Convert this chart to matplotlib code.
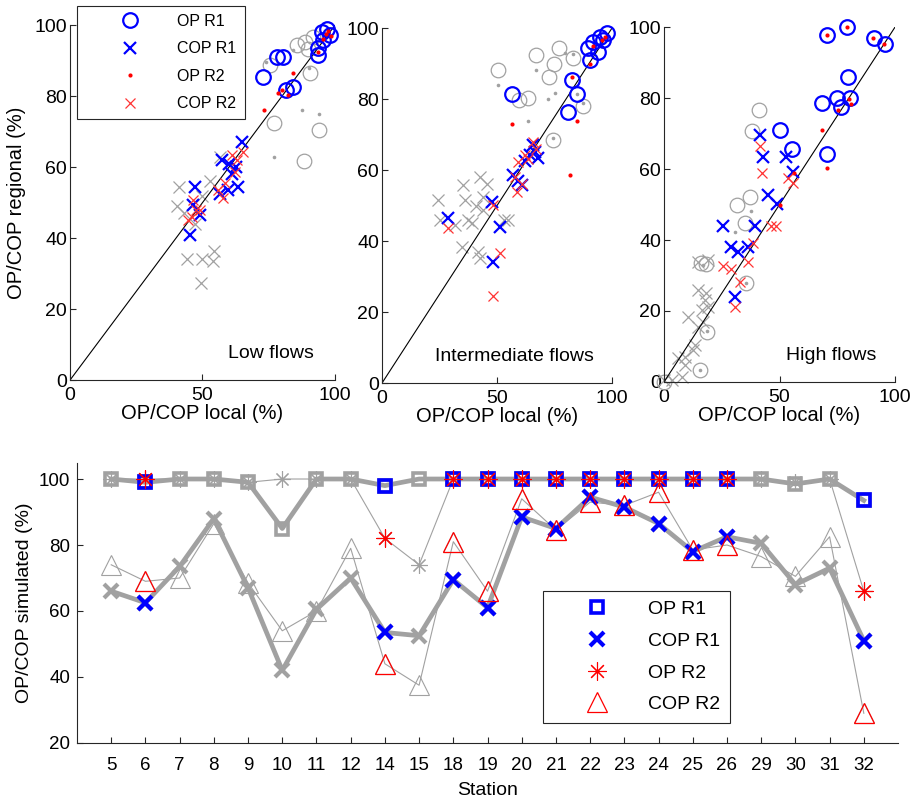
import matplotlib
matplotlib.use('Agg')
import matplotlib.pyplot as plt
import numpy as np

plt.rcParams['font.family'] = ['Liberation Sans', 'DejaVu Sans']

# ---- scatter panels: (local, regional) pairs in % ----
low_op_r1 = [(72.9, 85.4), (78, 91), (80.5, 91), (81.5, 81.8), (84.3, 82.5), (93.7, 91.5),
             (93.7, 93.5), (95.6, 95.8), (95, 98), (96.9, 99), (98.1, 97.2)]
low_op_r2 = [(84.3, 86.5), (78.6, 80.8), (79.9, 81.7), (82.4, 80.3), (73.4, 76), (93.5, 92.5),
             (95.5, 96), (96.5, 97.5), (97.5, 98.5), (98.5, 97)]
low_cop_r1 = [(64.8, 67.1), (57.5, 62), (60, 61), (62.5, 60), (61, 58), (63.5, 54.5), (59.7, 53.5),
              (56.5, 52.5), (47.2, 54.5), (46.5, 49.3), (49, 46.5), (45.3, 40.8)]
low_cop_r2 = [(61, 63.4), (65.4, 64.3), (63, 62), (62.3, 58.7), (58.5, 55.4), (56, 53.5), (57.9, 51.2),
              (46.5, 50.7), (47.5, 48), (45.9, 46), (44.7, 45.1), (49, 47.9)]
low_ns_op = [(75.5, 88.7), (85.5, 94.4), (88.7, 95.3), (91.8, 96.7), (90, 93.4), (90.5, 86.5),
             (77, 72.5), (94, 70.4), (88.3, 61.8)]
low_ns_dot = [(73.8, 89.7), (84, 93), (90.3, 87.8), (87.7, 76), (94, 75.1), (77, 62.9)]
low_ns_cop = [(41, 54.5), (40.5, 49), (43, 47), (47, 44), (44, 34), (50, 34), (54.5, 36.5),
              (54, 33.5), (49.5, 27.5), (56.5, 63), (53, 56), (50, 52)]

mid_op_r1 = [(56.4, 81.3), (82.5, 85.5), (84.6, 81.3), (81, 76.4), (89.7, 94.3), (91.9, 96.1),
             (94.8, 97.5), (97.7, 98.5), (94, 93.3), (90.4, 91), (96.2, 96.6)]
mid_op_r2 = [(56.4, 73.1), (82.5, 86.3), (84.6, 73.8), (81.7, 58.5), (91.9, 94.9), (90.4, 89.8),
             (95.5, 96.6), (97, 97.5)]
mid_cop_r1 = [(28.8, 46.4), (47.7, 51.1), (51.3, 44), (48.4, 34.2), (57, 58.6), (60.7, 55.8),
              (59, 57), (65.8, 67), (68, 63.3), (64.3, 64.2), (62, 62.5), (66.5, 65)]
mid_cop_r2 = [(28.8, 43.6), (48.4, 50.1), (51.3, 36.7), (48.4, 24.5), (58.6, 53.9), (60.7, 56.2),
              (59.3, 62.3), (65.8, 68), (62.2, 64.2), (67, 66), (57.8, 58.1), (63.5, 63)]
mid_ns_op = [(50.6, 88.2), (67, 92.4), (77.1, 94.5), (74.8, 90), (72.6, 86.3), (83.2, 91.6),
             (59.7, 79.7), (63.6, 80.2), (87.5, 78.1), (74.5, 68.5)]
mid_ns_dot = [(50.6, 84.1), (67, 88.2), (72.3, 79.9), (75.2, 81.8), (63.6, 73.8), (79.5, 93),
              (83.2, 92.8), (87.5, 78.8), (74.5, 68.9), (84.6, 81.3)]
mid_ns_cop = [(24.5, 51.5), (35.3, 55.8), (36.1, 51.5), (42.6, 58.1), (45.5, 56.2), (44, 52.5),
              (25.2, 45.9), (31.7, 44.5), (37.5, 45.9), (39, 45), (34.7, 38.4), (41.9, 37),
              (42.6, 35.1), (54.9, 45.9), (44, 48.7), (53, 46), (41, 50)]

high_op_r1 = [(70.7, 97.7), (79, 100), (90.9, 96.8), (95.7, 95.3), (79.5, 85.8), (68.2, 78.7),
              (74.7, 80.1), (76.4, 77.5), (80.5, 80.1), (70.7, 64.2), (50.1, 71), (55.2, 65.6)]
high_op_r2 = [(70.7, 97.7), (79, 100), (90.6, 96.8), (95.4, 95.3), (68.2, 71), (70.4, 60.3),
              (75.5, 76.5), (80.2, 79.7), (80.8, 78.4), (56.4, 59), (50, 50)]
high_cop_r1 = [(41.5, 69.5), (42.9, 63.3), (53, 63.4), (55.9, 59.2), (45.1, 52.8), (48.7, 50.1),
               (25.6, 43.9), (39.3, 43.9), (29.2, 38.1), (32.1, 36.6), (36.4, 38), (30.6, 23.9)]
high_cop_r2 = [(41.5, 66.5), (42.2, 59), (53.8, 57.6), (55.9, 56.2), (46.5, 44), (48.5, 44),
               (38.6, 39.2), (25.6, 32.8), (29.2, 31.9), (36.4, 33.7), (32.8, 28.3), (30.6, 21.1)]
high_ns_op = [(41.2, 76.6), (37.9, 70.8), (31.4, 50), (37.1, 52), (35, 44.7), (35.7, 27.8),
              (16, 33.5), (18, 33.3), (18.6, 14.1), (15.5, 3.3), (0, 0)]
high_ns_dot = [(37.6, 48.1), (30.6, 42.2), (15.5, 3.5), (18.6, 14.5), (35.5, 28), (17, 33)]
high_ns_cop = [(14.9, 33.9), (19.2, 34.4), (14.9, 25.9), (17.7, 23.1), (19.2, 21.2), (16.3, 20.3),
               (10.5, 18.4), (14.9, 15.6), (13.4, 10.4), (12.7, 9), (9.1, 7.1), (6.2, 6.7),
               (9.1, 4.8), (7.7, 1.5), (0, 0.5), (3.3, 0.6), (18, 25), (17, 17)]

# ---- per-station results ----
stations = [5, 6, 7, 8, 9, 10, 11, 12, 14, 15, 18, 19, 20, 21, 22, 23, 24, 25, 26, 29, 30, 31, 32]
op_r1 = [100, 99, 100, 100, 99, 85, 100, 100, 98, 100, 100, 100, 100, 100, 100, 100, 100, 100,
         100, 100, 98.5, 100, 93.5]
cop_r1 = [66, 62.5, 73.5, 88, 67, 42, 60.5, 70, 53.5, 52.5, 69.5, 61, 88.5, 85, 94.5, 91.5,
          86.5, 78, 82.5, 80.5, 68, 73, 51]
op_r2 = [100, 100, 100, 100, 99, 100, 100, 100, 82, 74, 100, 100, 100, 100, 100, 100, 100, 100,
         100, 100, 99, 100, 66]
cop_r2 = [74, 69, 70, 86.5, 68.5, 54, 60, 79, 44, 37.5, 81, 66, 94, 84.5, 93, 92, 96, 78.5,
          80, 76.5, 70.5, 82.5, 29]
highlighted = [6, 14, 18, 19, 20, 21, 22, 23, 24, 25, 26, 32]

GRAY = (0.63, 0.63, 0.63)
AXC = (0.15, 0.15, 0.15)


def style_axes(ax, xpad, ypad, size):
    for side in ('top', 'right'):
        ax.spines[side].set_visible(False)
    for side in ('left', 'bottom'):
        ax.spines[side].set_color(AXC)
        ax.spines[side].set_linewidth(0.8)
    ax.tick_params(direction='in', length=4, width=0.8, colors=AXC, labelcolor='black',
                   labelsize=size)
    ax.tick_params(axis='x', pad=xpad)
    ax.tick_params(axis='y', pad=ypad)


def pts(ax, data, **kw):
    x, y = zip(*data)
    return ax.plot(x, y, linestyle='none', clip_on=False, **kw)[0]


def scatter_panel(ax, ns_op, ns_dot, ns_cop, op1, cop1, op2, cop2, title):
    pts(ax, ns_op, marker='o', ms=10.5, mfc='none', mec=GRAY, mew=0.9)
    pts(ax, ns_cop, marker='x', ms=9, mec=GRAY, mew=0.9)
    pts(ax, ns_dot, marker='o', ms=2.6, mfc=GRAY, mec='none')
    ax.plot([0, 100], [0, 100], color='black', lw=0.8)
    h1 = pts(ax, op1, marker='o', ms=10.5, mfc='none', mec='blue', mew=1.6, label='OP R1')
    h2 = pts(ax, cop1, marker='x', ms=9, mec='blue', mew=1.6, label='COP R1')
    h3 = pts(ax, op2, marker='o', ms=3, mfc='red', mec='none', label='OP R2')
    h4 = pts(ax, cop2, marker='x', ms=6.5, mec=(1, 0.2, 0.2), mew=0.9, label='COP R2')
    ax.set_xlim(0, 100)
    ax.set_ylim(0, 100)
    ax.set_xticks([0, 50, 100])
    ax.set_yticks(np.arange(0, 101, 20))
    ax.set_xlabel('OP/COP local (%)', fontsize=14.5, labelpad=0)
    ax.text(0.92, 0.075, title, transform=ax.transAxes, ha='right', va='center', fontsize=14)
    style_axes(ax, 5, 2, 14)
    return [h1, h2, h3, h4]


fig = plt.figure(figsize=(9.17, 8.02), dpi=100)
ax1 = fig.add_axes([0.0763, 0.526, 0.289, 0.4426])
ax2 = fig.add_axes([0.4166, 0.5224, 0.2508, 0.4426])
ax3 = fig.add_axes([0.7241, 0.5237, 0.252, 0.4426])

handles = scatter_panel(ax1, low_ns_op, low_ns_dot, low_ns_cop,
                        low_op_r1, low_cop_r1, low_op_r2, low_cop_r2, 'Low flows')
scatter_panel(ax2, mid_ns_op, mid_ns_dot, mid_ns_cop,
              mid_op_r1, mid_cop_r1, mid_op_r2, mid_cop_r2, 'Intermediate flows')
scatter_panel(ax3, high_ns_op, high_ns_dot, high_ns_cop,
              high_op_r1, high_cop_r1, high_op_r2, high_cop_r2, 'High flows')
ax1.set_ylabel('OP/COP regional (%)', fontsize=14.5, labelpad=6)

leg = ax1.legend(handles=handles, loc='upper left', bbox_to_anchor=(0.026, 1.054),
                 fontsize=11.5, frameon=True, fancybox=False, framealpha=1, edgecolor=AXC,
                 handlelength=5.6, handletextpad=0.2, labelspacing=0.78, borderpad=0.5,
                 borderaxespad=0)
leg.get_frame().set_linewidth(0.8)

# ---- bottom panel ----
ax4 = fig.add_axes([0.084, 0.0736, 0.8953, 0.3497])
pos = np.arange(1, len(stations) + 1)
mask = np.array([s in highlighted for s in stations])

ax4.plot(pos, op_r2, color=GRAY, lw=0.8, marker=(8, 2, 0), ms=12, mec=GRAY, mew=0.8)
ax4.plot(pos, cop_r2, color=GRAY, lw=0.8, marker='^', ms=15, mfc='none', mec=GRAY, mew=0.8)
ax4.plot(pos, op_r1, color=GRAY, lw=3.4, marker='s', ms=9, mfc='none', mec=GRAY, mew=2.6)
ax4.plot(pos, cop_r1, color=GRAY, lw=3.4, marker='x', ms=10, mec=GRAY, mew=3)

b1, = ax4.plot(pos[mask], np.array(op_r1)[mask], linestyle='none', marker='s', ms=8.5,
               mfc='none', mec='blue', mew=2.6, label='OP R1')
b2, = ax4.plot(pos[mask], np.array(cop_r1)[mask], linestyle='none', marker='x', ms=10,
               mec='blue', mew=3, label='COP R1')
r1, = ax4.plot(pos[mask], np.array(op_r2)[mask], linestyle='none', marker=(8, 2, 0), ms=13,
               mec='red', mew=0.8, label='OP R2')
r2, = ax4.plot(pos[mask], np.array(cop_r2)[mask], linestyle='none', marker='^', ms=15,
               mfc='none', mec='red', mew=0.9, label='COP R2')

ax4.set_xlim(0, len(stations) + 1)
ax4.set_ylim(20, 105)
ax4.set_xticks(pos)
ax4.set_xticklabels([str(s) for s in stations])
ax4.set_yticks(np.arange(20, 101, 20))
ax4.set_xlabel('Station', fontsize=14, labelpad=6)
ax4.set_ylabel('OP/COP simulated (%)', fontsize=14, labelpad=4)
style_axes(ax4, 10, 5, 13.5)

leg2 = ax4.legend(handles=[b1, b2, r1, r2], loc='upper left', bbox_to_anchor=(0.568, 0.542),
                  fontsize=14, frameon=True, fancybox=False, framealpha=1, edgecolor=AXC,
                  handlelength=4.5, handletextpad=0.4, labelspacing=0.72, borderpad=0.5,
                  borderaxespad=0)
leg2.get_frame().set_linewidth(0.8)

fig.savefig('out.png', dpi=100)
